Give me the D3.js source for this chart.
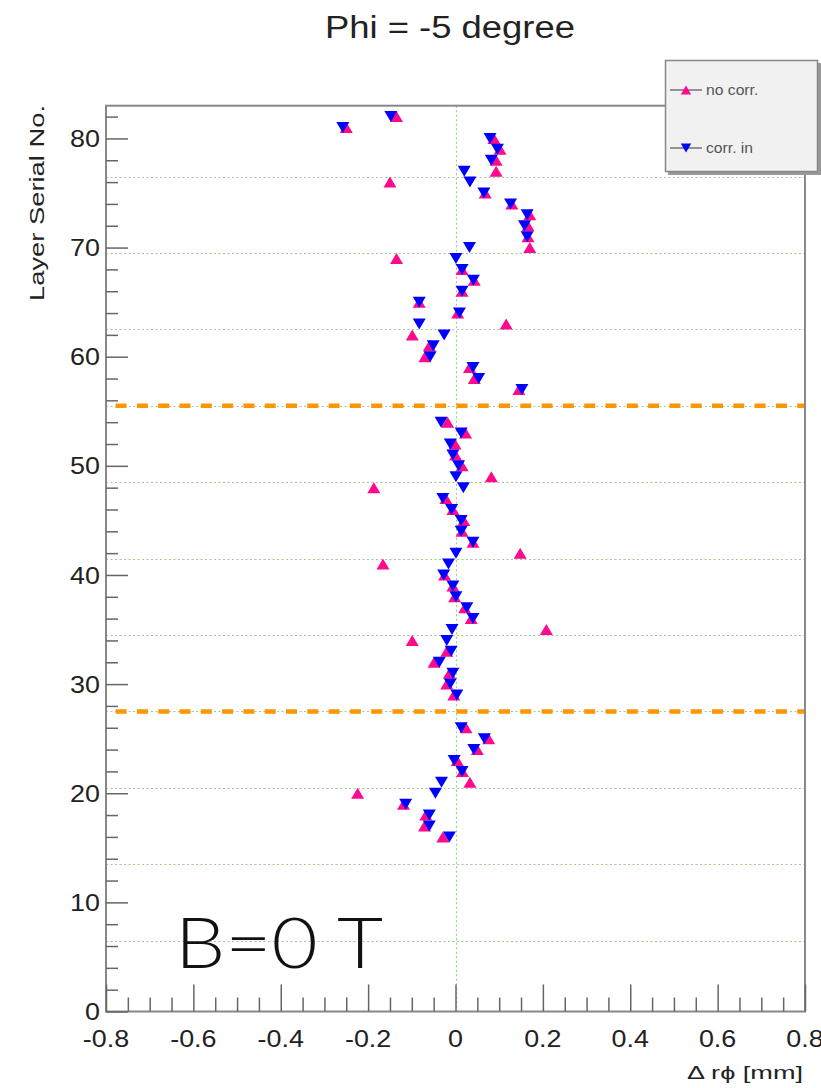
<!DOCTYPE html>
<html>
<head>
<meta charset="utf-8">
<script src="https://cdn.jsdelivr.net/npm/d3@7"></script>
<style>
  html, body { margin: 0; padding: 0; background: #fff; }
  svg { display: block; }
</style>
</head>
<body>
<svg id="chart" width="821" height="1088"></svg>
<script>
// Layer numbers with a measurement
const layers = [
  16, 17, 18, 19, 20, 21, 22, 23, 24, 25, 26,
  29, 30, 31, 32, 33, 34, 35, 36, 37, 38, 39, 40, 41, 42, 43, 44, 45, 46, 47, 48, 49, 50, 51, 52, 53, 54,
  57, 58, 59, 60, 61, 62, 63, 64, 65, 66, 67, 68, 69, 70, 71, 72, 73, 74, 75, 76, 77, 78, 79, 80, 81, 82
];

// Δrϕ [mm] without correction
const noCorr = [
  -0.029, -0.071, -0.068, -0.119, -0.224, 0.033, 0.016, 0.004, 0.050, 0.076, 0.024,
  -0.004, -0.020, -0.014, -0.049, -0.020, -0.099, 0.208, 0.036, 0.021, -0.002, -0.006, -0.025, -0.166, 0.148, 0.040, 0.015, 0.019, -0.006, -0.022, -0.187, 0.082, 0.015, 0.000, -0.001, 0.023, -0.018,
  0.145, 0.043, 0.032, -0.070, -0.060, -0.099, 0.116, 0.005, -0.083, 0.015, 0.043, 0.015, -0.135, 0.170, 0.166, 0.166, 0.170, 0.129, 0.068, -0.150, 0.093, 0.093, 0.102, 0.088, -0.250, -0.135
];

// Δrϕ [mm] with correction applied
const corrIn = [
  -0.014, -0.060, -0.060, -0.114, -0.046, -0.032, 0.015, -0.003, 0.042, 0.066, 0.013,
  0.003, -0.012, -0.006, -0.037, -0.010, -0.020, -0.008, 0.040, 0.026, 0.001, -0.006, -0.027, -0.016, 0.001, 0.040, 0.013, 0.013, -0.009, -0.029, 0.018, 0.001, 0.007, -0.006, -0.012, 0.013, -0.033,
  0.152, 0.053, 0.040, -0.058, -0.051, -0.026, -0.083, 0.009, -0.083, 0.015, 0.041, 0.015, 0.001, 0.032, 0.164, 0.158, 0.164, 0.126, 0.065, 0.033, 0.020, 0.082, 0.096, 0.079, -0.258, -0.148
];

// Axis ticks and reference lines
const xMajorTicks = [-0.8, -0.6, -0.4, -0.2, 0, 0.2, 0.4, 0.6, 0.8];
const xTickLabels = ["-0.8", "-0.6", "-0.4", "-0.2", "0", "0.2", "0.4", "0.6", "0.8"];
const yMajorTicks = [0, 10, 20, 30, 40, 50, 60, 70, 80];
const gridLayers = [6.5, 13.5, 20.5, 27.5, 34.5, 41.5, 48.5, 55.5, 62.5, 69.5, 76.5];
const boundaryLayers = [27.5, 55.5];

const seriesNames = ["no corr.", "corr. in"];

const svg = d3.select("#chart");
const FONT = "'Liberation Sans', Arial, Helvetica, sans-serif";
const STRETCH = 1.12;

const plotL = 106, plotR = 805, plotT = 105.7, plotB = 1011.5;
const x = d3.scaleLinear().domain([-0.8, 0.8]).range([plotL, plotR]);
const y = d3.scaleLinear().domain([0, 83]).range([plotB, plotT]);

function widen(sel, factor) {
  sel.each(function () {
    const len = this.getComputedTextLength();
    d3.select(this).attr("textLength", len * factor).attr("lengthAdjust", "spacingAndGlyphs");
  });
}

// Dotted grid lines
const grid = svg.append("g").attr("stroke", "#9ccc92").attr("stroke-width", 1.2).attr("stroke-dasharray", "2,2.5");
grid.selectAll("line.h").data(gridLayers).join("line")
  .attr("x1", plotL).attr("x2", plotR)
  .attr("y1", d => Math.round(y(d)) + 0.5).attr("y2", d => Math.round(y(d)) + 0.5);
grid.append("line")
  .attr("x1", Math.round(x(0)) + 0.5).attr("x2", Math.round(x(0)) + 0.5)
  .attr("y1", plotT).attr("y2", plotB);

// Orange dashed boundaries
svg.append("g").selectAll("line").data(boundaryLayers).join("line")
  .attr("x1", x(-0.778)).attr("x2", x(0.8))
  .attr("y1", d => y(d)).attr("y2", d => y(d))
  .attr("stroke", "#ff9500").attr("stroke-width", 4.5)
  .attr("stroke-dasharray", "11,10.3");

// Frame
svg.append("rect")
  .attr("x", plotL).attr("y", plotT)
  .attr("width", plotR - plotL).attr("height", plotB - plotT)
  .attr("fill", "none").attr("stroke", "#888").attr("stroke-width", 2);

// X axis (ticks pointing inward)
const xMinor = d3.range(-0.8, 0.8001, 0.05).map(v => +v.toFixed(2));
const xAxis = d3.axisBottom(x).tickValues(xMinor).tickSize(0).tickFormat("");
const xg = svg.append("g").attr("transform", `translate(0,${plotB})`).call(xAxis);
xg.select(".domain").remove();
xg.selectAll(".tick line")
  .attr("y2", d => xMajorTicks.some(m => Math.abs(m - d) < 1e-6) ? -27 : -14)
  .attr("stroke", "#666").attr("stroke-width", 1.5);

const xLab = svg.append("g").selectAll("text").data(xMajorTicks).join("text")
  .attr("x", d => x(d)).attr("y", 1047)
  .attr("text-anchor", "middle")
  .attr("font-family", FONT).attr("font-size", 24).attr("fill", "#222")
  .text((d, i) => xTickLabels[i]);
widen(xLab, STRETCH);

// Y axis (ticks pointing inward)
const yMinor = d3.range(0, 83, 2);
const yAxis = d3.axisLeft(y).tickValues(yMinor).tickSize(0).tickFormat("");
const yg = svg.append("g").attr("transform", `translate(${plotL},0)`).call(yAxis);
yg.select(".domain").remove();
yg.selectAll(".tick line")
  .attr("x2", d => d % 10 === 0 ? 22 : 12)
  .attr("stroke", "#666").attr("stroke-width", 1.5);

const yLab = svg.append("g").selectAll("text").data(yMajorTicks).join("text")
  .attr("x", 100).attr("y", d => y(d)).attr("dy", "0.36em")
  .attr("text-anchor", "end")
  .attr("font-family", FONT).attr("font-size", 24).attr("fill", "#222")
  .text(d => d);
widen(yLab, STRETCH);

// Axis titles
svg.append("text")
  .attr("transform", "translate(44,105) rotate(-90)")
  .attr("text-anchor", "end")
  .attr("font-family", FONT).attr("font-size", 21).attr("fill", "#222")
  .attr("textLength", 196).attr("lengthAdjust", "spacingAndGlyphs")
  .text("Layer Serial No.");

svg.append("text")
  .attr("x", 803).attr("y", 1079)
  .attr("text-anchor", "end")
  .attr("font-family", FONT).attr("font-size", 18).attr("fill", "#222")
  .attr("textLength", 116).attr("lengthAdjust", "spacingAndGlyphs")
  .text("Δ rϕ [mm]");

// Title
svg.append("text")
  .attr("x", 450).attr("y", 38)
  .attr("text-anchor", "middle")
  .attr("font-family", FONT).attr("font-size", 31).attr("fill", "#222")
  .attr("textLength", 250).attr("lengthAdjust", "spacingAndGlyphs")
  .text("Phi = -5 degree");

// Magnetic field annotation
svg.append("text")
  .attr("x", 175).attr("y", 968)
  .attr("font-family", "Lato, 'Open Sans', " + FONT).attr("font-weight", 300)
  .attr("font-size", 70).attr("fill", "#111")
  .attr("textLength", 208).attr("lengthAdjust", "spacingAndGlyphs")
  .text("B=0 T");

// Markers
const triUp = "M-6.5,5.5L6.5,5.5L0,-5.5Z";
const triDown = "M-6.5,-5.5L6.5,-5.5L0,5.5Z";
const pink = "#ff0a8c", blue = "#0000ff";

svg.append("g").selectAll("path").data(layers).join("path")
  .attr("d", triUp)
  .attr("transform", (d, i) => `translate(${x(noCorr[i])},${y(d)})`)
  .attr("fill", pink);

svg.append("g").selectAll("path").data(layers).join("path")
  .attr("d", triDown)
  .attr("transform", (d, i) => `translate(${x(corrIn[i])},${y(d)})`)
  .attr("fill", blue);

// Legend
const lg = svg.append("g");
lg.append("rect").attr("x", 668).attr("y", 63).attr("width", 153).attr("height", 112).attr("fill", "#999");
lg.append("rect").attr("x", 665.5).attr("y", 60.5).attr("width", 152).attr("height", 111)
  .attr("fill", "#f1f1f1").attr("stroke", "#888").attr("stroke-width", 1.5);

const entries = [
  { name: seriesNames[0], color: pink, shape: triUp, yPos: 90 },
  { name: seriesNames[1], color: blue, shape: triDown, yPos: 148 }
];
entries.forEach(e => {
  lg.append("line").attr("x1", 670).attr("x2", 702).attr("y1", e.yPos).attr("y2", e.yPos)
    .attr("stroke", "#555").attr("stroke-width", 1.2);
  lg.append("path").attr("d", e.shape).attr("transform", `translate(686,${e.yPos}) scale(0.8)`).attr("fill", e.color);
  const t = lg.append("text").attr("x", 706).attr("y", e.yPos + 5)
    .attr("font-family", FONT).attr("font-size", 14).attr("fill", "#555")
    .text(e.name);
  widen(t, STRETCH);
});
</script>
</body>
</html>
